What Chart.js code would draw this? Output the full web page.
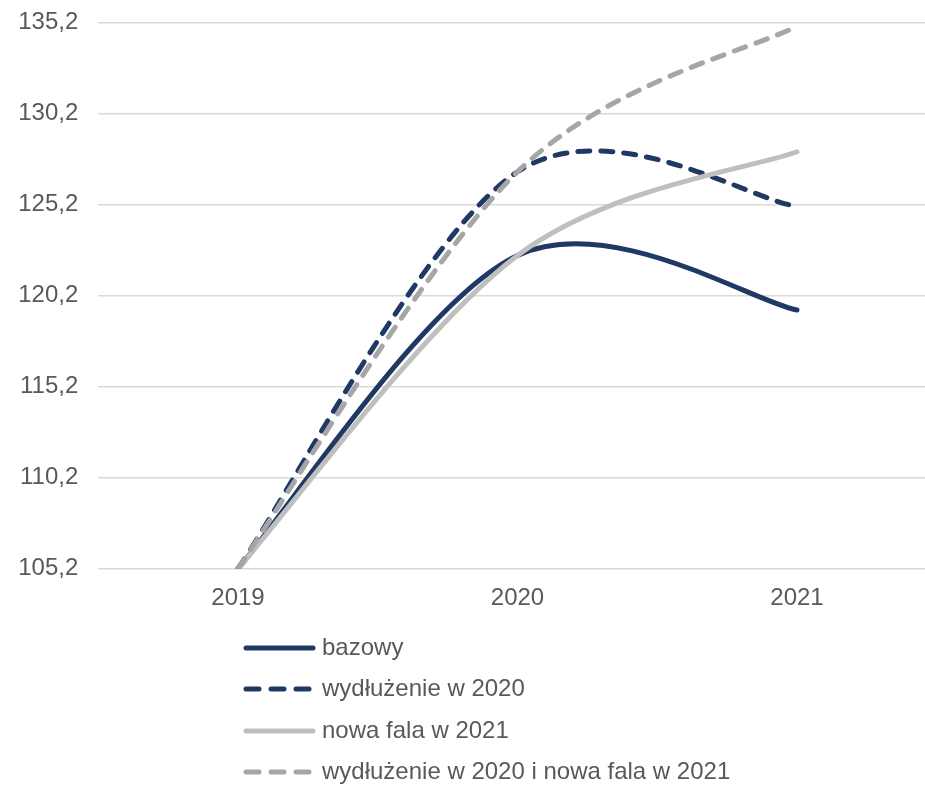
<!DOCTYPE html>
<html lang="pl">
<head>
<meta charset="utf-8">
<title>Scenariusze 2019–2021</title>
<script src="https://cdn.jsdelivr.net/npm/chart.js@4/dist/chart.umd.min.js"></script>
<style>
  html, body { margin: 0; padding: 0; background: #ffffff; overflow: hidden; }
  #wrap { width: 925px; height: 787px; overflow: hidden; }
  canvas { display: block; }
</style>
</head>
<body>
<div id="wrap"><canvas id="chart" width="940" height="787"></canvas></div>
<script>
// Lata na osi X
const years = ['2019', '2020', '2021'];

// Scenariusze
const bazowy = [105.2, 122.4, 119.4];
const wydluzenie2020 = [105.2, 127.0, 125.1];
const nowaFala2021 = [105.2, 122.4, 128.1];
const wydluzenieINowaFala = [105.2, 127.0, 135.0];

const seriesNames = [
  'bazowy',
  'wydłużenie w 2020',
  'nowa fala w 2021',
  'wydłużenie w 2020 i nowa fala w 2021'
];

// Oś Y
const yMin = 105.2;
const yMax = 135.2;
const yStep = 5;

const NAVY = '#1f3864';
const LIGHT = '#bfbfbf';
const GREY = '#a6a6a6';
const TEXT = '#595959';
const FONT = '"Liberation Sans", Arial, sans-serif';
const DASH = [12, 11];

function lineDataset(label, data, color, dash, order) {
  return {
    label, data,
    borderColor: color,
    backgroundColor: color,
    borderWidth: 5,
    borderDash: dash,
    borderCapStyle: 'round',
    borderJoinStyle: 'round',
    pointRadius: 0,
    pointHoverRadius: 0,
    tension: 0.4,
    fill: false,
    order
  };
}

// Wygładzanie w stylu arkusza: punkty kontrolne w 1/6 cięciwy sąsiadów
const sheetSmoothing = {
  id: 'sheetSmoothing',
  beforeDatasetsDraw(chart) {
    chart.data.datasets.forEach((ds, di) => {
      const meta = chart.getDatasetMeta(di);
      const line = meta.dataset;
      const pts = meta.data;
      if (!line || !pts.length) return;
      line.updateControlPoints(chart.chartArea, 'x');
      for (let i = 0; i < pts.length; i++) {
        const p = pts[i];
        const prev = pts[Math.max(i - 1, 0)];
        const next = pts[Math.min(i + 1, pts.length - 1)];
        const dx = (next.x - prev.x) / 6;
        const dy = (next.y - prev.y) / 6;
        p.cp1x = p.x - dx; p.cp1y = p.y - dy;
        p.cp2x = p.x + dx; p.cp2y = p.y + dy;
      }
    });
  }
};

// Legenda rysowana pionowo pod wykresem
const stackedLegend = {
  id: 'stackedLegend',
  afterDraw(chart) {
    const ctx = chart.ctx;
    const x0 = 246, x1 = 313, textX = 322;
    const rows = [648, 689, 731, 772];
    const legendDash = [13, 12];
    ctx.save();
    chart.data.datasets.forEach((ds, i) => {
      const y = rows[i];
      ctx.beginPath();
      ctx.strokeStyle = ds.borderColor;
      ctx.lineWidth = 5;
      ctx.lineCap = 'round';
      ctx.setLineDash(ds.borderDash.length ? legendDash : []);
      ctx.moveTo(x0, y);
      ctx.lineTo(x1, y);
      ctx.stroke();
      ctx.setLineDash([]);
      ctx.fillStyle = TEXT;
      ctx.font = '24px ' + FONT;
      ctx.textBaseline = 'middle';
      ctx.textAlign = 'left';
      ctx.fillText(ds.label, textX, y);
    });
    ctx.restore();
  }
};

new Chart(document.getElementById('chart'), {
  type: 'line',
  data: {
    labels: years,
    datasets: [
      lineDataset(seriesNames[0], bazowy, NAVY, [], 4),
      lineDataset(seriesNames[1], wydluzenie2020, NAVY, DASH, 3),
      lineDataset(seriesNames[2], nowaFala2021, LIGHT, [], 2),
      lineDataset(seriesNames[3], wydluzenieINowaFala, GREY, DASH, 1)
    ]
  },
  options: {
    responsive: false,
    animation: false,
    devicePixelRatio: 1,
    layout: { padding: { top: 22.5, right: 3.25, bottom: 160, left: 0 } },
    plugins: {
      legend: { display: false },
      tooltip: { enabled: false }
    },
    scales: {
      x: {
        offset: true,
        grid: { display: false, drawTicks: false },
        border: { display: false },
        ticks: { color: TEXT, font: { family: FONT, size: 24 }, padding: 15, maxRotation: 0 },
        afterFit(scale) { scale.height = 58.5; scale.paddingLeft = 0; scale.paddingRight = 0; }
      },
      y: {
        min: yMin,
        max: yMax,
        grid: { color: '#d9d9d9', lineWidth: 1.5, drawTicks: false },
        border: { display: false },
        ticks: {
          stepSize: yStep,
          color: TEXT,
          font: { family: FONT, size: 24 },
          padding: 20,
          callback: (v) => Number(v).toFixed(1).replace('.', ',')
        },
        afterFit(scale) {
          scale.width = 98.25;
          scale.paddingTop = 0;
          scale.paddingBottom = 0;
        }
      }
    }
  },
  plugins: [sheetSmoothing, stackedLegend]
});
</script>
</body>
</html>
